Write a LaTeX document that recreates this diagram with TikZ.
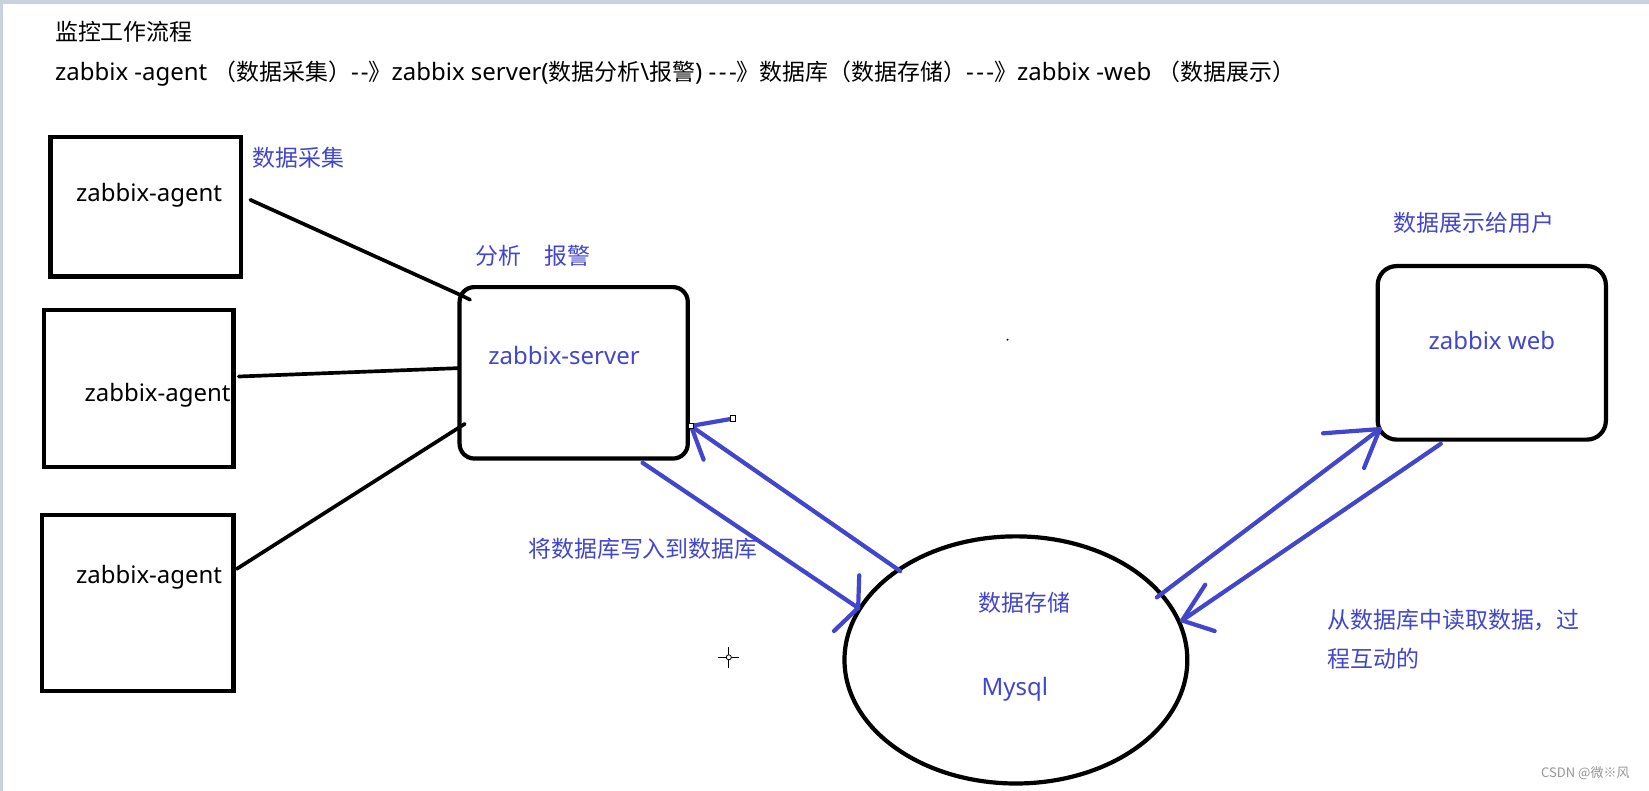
\documentclass[tikz,border=0pt]{standalone}
\usepackage{fontspec}
\setmainfont{Noto Sans CJK SC}
\newfontfamily\latin{Noto Sans}
\newcommand\twodash{-\kern1pt-}
\newcommand\threedash{-\kern1.2pt-\kern1.2pt-}
\usetikzlibrary{shapes.geometric}
\definecolor{inkblue}{RGB}{66,70,205}
\definecolor{frame}{RGB}{200,210,222}
\definecolor{wm}{RGB}{150,150,150}
\tikzset{
  agentbox/.style={draw, line width=2pt, inner sep=0pt, rectangle},
  roundbox/.style={draw, line width=2pt, inner sep=0pt, rectangle},
  blk/.style={font=\fontsize{10.9pt}{12pt}\selectfont, anchor=west, inner sep=0pt, text=black},
  blu/.style={font=\fontsize{10.9pt}{12pt}\selectfont, anchor=west, inner sep=0pt, text=inkblue},
  lat/.style={font=\fontsize{11.4pt}{12pt}\selectfont\latin},
  wire/.style={line width=1.75pt, line cap=round, line join=round},
  bluearrow/.style={draw=inkblue, line width=2pt, line cap=round, line join=round},
}
\begin{document}
\begin{tikzpicture}[x=0.5pt,y=-0.5pt]
\useasboundingbox (0,0) rectangle (1568,752);
\fill[white] (0,0) rectangle (1568,752);
\fill[frame] (0,0) rectangle (1568,4);
\fill[frame] (0,0) rectangle (3,752);

% header text
\node[blk] (title) at (52,30) {监控工作流程};
\node[blk] (flow) at (52,70) {{\latin\fontsize{11.4pt}{12pt}\selectfont zabbix -agent }（数据采集）{\latin\fontsize{11.4pt}{12pt}\selectfont\twodash}》{\latin\fontsize{11.4pt}{12pt}\selectfont zabbix server(}数据分析{\latin\fontsize{11.4pt}{12pt}\selectfont\textbackslash}报警{\latin\fontsize{11.4pt}{12pt}\selectfont) \threedash}》数据库（数据存储）{\latin\fontsize{11.4pt}{12pt}\selectfont\threedash}》{\latin\fontsize{11.4pt}{12pt}\selectfont zabbix -web }（数据展示）};

% agent boxes
\node[agentbox, minimum width=90.5pt, minimum height=66.5pt] (a1) at (138.5,196.5) {};
\node[agentbox, minimum width=90pt, minimum height=74.5pt] (a2) at (132,369.5) {};
\node[agentbox, minimum width=91pt, minimum height=83.5pt] (a3) at (131,573.5) {};
\node[blk, lat] (a1t) at (72,186) {zabbix-agent};
\node[blk, lat] (a2t) at (80,376) {zabbix-agent};
\node[blk, lat] (a3t) at (72,549) {zabbix-agent};
\node[blu] (collect) at (240,150) {数据采集};

% server
\node[roundbox, rounded corners=7pt, minimum width=108.5pt, minimum height=81.5pt] (srv) at (545.5,354.5) {};
\node[blu, lat] (srvt) at (464,338) {zabbix-server};
\node[blu] (analyze) at (452,243) {分析\hspace{1em}报警};

% web
\node[roundbox, rounded corners=9pt, minimum width=108.5pt, minimum height=82.5pt] (web) at (1418.5,335.5) {};
\node[blu, lat] (webt) at (1358,324) {zabbix web};
\node[blu] (show) at (1325,212) {数据展示给用户};

% database
\node[draw, ellipse, line width=2pt, inner sep=0pt, minimum width=163pt, minimum height=117.5pt] (db) at (966,627.5) {};
\node[blu] (dbt1) at (930,573) {数据存储};
\node[blu, lat] (dbt2) at (933,655) {Mysql};

% labels
\node[blu] (write) at (502,522) {将数据库写入到数据库};
\node[blu, align=left, anchor=north west, font=\fontsize{10.9pt}{18.5pt}\selectfont] (read) at (1262,579) {从数据库中读取数据，过\\程互动的};

% black connectors
\coordinate (l1s) at (238,190);
\coordinate (l1e) at (439,281);
\coordinate (l1h) at (447,285);
\coordinate (l2s) at (227,358);
\coordinate (l2e) at (437,350);
\coordinate (l3s) at (225,541);
\coordinate (l3e) at (442,403);
\draw[wire] (l1s) -- (l1e) -- (l1h);
\draw[wire] (l2s) -- (l2e);
\draw[wire] (l3s) -- (l3e);

% blue arrows
\coordinate (s2dA) at (611,440);
\coordinate (s2dB) at (816,578);
\draw[bluearrow] (s2dA) -- (s2dB);
\draw[bluearrow] (s2dB) -- ++(1,-31);
\draw[bluearrow] (s2dB) -- ++(-23,22);

\coordinate (d2sA) at (856,543);
\coordinate (d2sB) at (657,405);
\draw[bluearrow] (d2sA) -- (d2sB);
\draw[bluearrow] (d2sB) -- ++(40,-7) coordinate (hnd);
\draw[bluearrow] (d2sB) -- ++(12,32);
\draw[black, fill=white, line width=0.4pt] ([xshift=-1.3pt,yshift=-1.3pt]hnd) rectangle ([xshift=1.3pt,yshift=1.3pt]hnd);
\draw[black, fill=white, line width=0.4pt] ([xshift=-1.3pt,yshift=-1.3pt]d2sB) rectangle ([xshift=1.3pt,yshift=1.3pt]d2sB);

\coordinate (d2wA) at (1100,568);
\coordinate (d2wB) at (1312,408);
\draw[bluearrow] (d2wA) -- (d2wB);
\draw[bluearrow] (d2wB) -- ++(-54,4);
\draw[bluearrow] (d2wB) -- ++(-15,37);

\coordinate (w2dA) at (1370,422);
\coordinate (w2dB) at (1124,590);
\draw[bluearrow] (w2dA) -- (w2dB);
\draw[bluearrow] (w2dB) -- ++(22,-34);
\draw[bluearrow] (w2dB) -- ++(31,10);

% cursor crosshair and stray dot
\coordinate (cur) at (693,625);
\draw[black, line width=0.5pt] ([xshift=-5pt]cur) -- ([xshift=5pt]cur) ([yshift=-5pt]cur) -- ([yshift=5pt]cur);
\draw[black, fill=white, line width=0.4pt] (cur) circle (1.2pt);
\fill[black] (958,323) circle (0.5pt);

% watermark
\node[font=\fontsize{6.2pt}{7pt}\selectfont, text=wm, anchor=east, inner sep=0pt] (mark) at (1550,735) {CSDN @微※风};
\end{tikzpicture}
\end{document}
